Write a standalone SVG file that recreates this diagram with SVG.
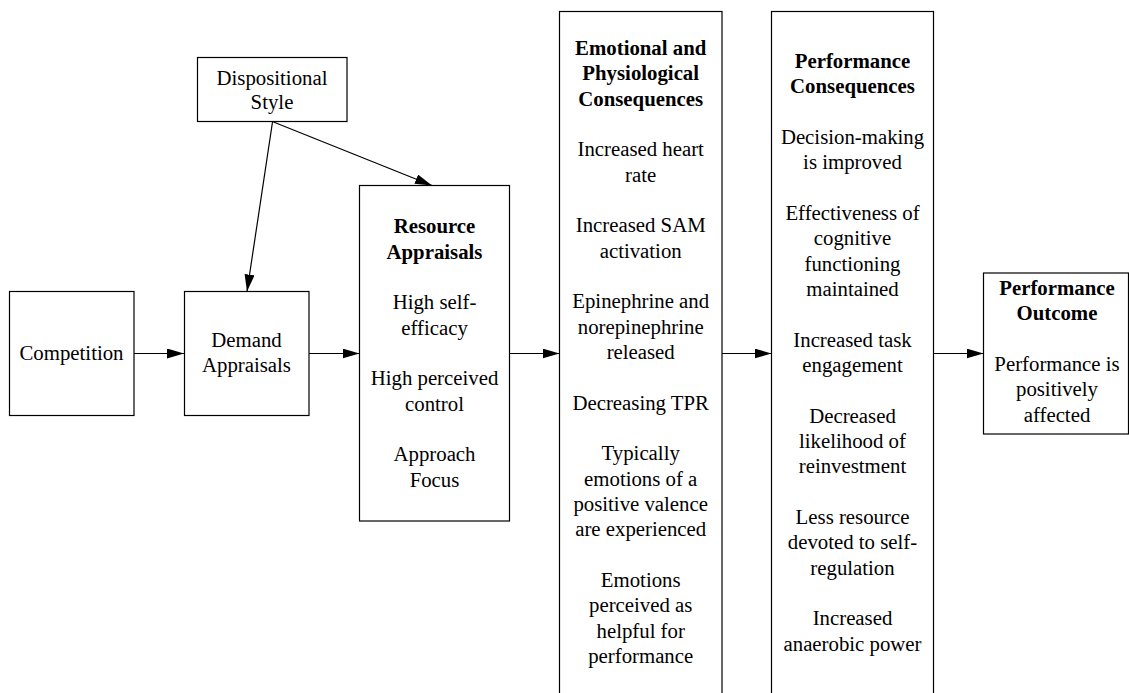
<svg xmlns="http://www.w3.org/2000/svg" width="1129" height="693" viewBox="0 0 1129 693" font-family="Liberation Serif, Times New Roman, serif" font-size="20.8">
<style>
.box{fill:#fff;stroke:#000;stroke-width:1.2}
text{fill:#000;text-anchor:middle}
.b{font-weight:bold}
.c{stroke:#000;stroke-width:1.2;fill:none}
</style>
<defs>
<marker id="ah" markerUnits="userSpaceOnUse" markerWidth="17" markerHeight="10" refX="17" refY="5" orient="auto">
<path d="M0,0 L17,5 L0,10 z" fill="#000"/>
</marker>
</defs>
<rect width="1129" height="693" fill="#fff"/>
<g id="connectors">
<line class="c" x1="134" y1="353.5" x2="184" y2="353.5" marker-end="url(#ah)"/>
<line class="c" x1="309" y1="353.5" x2="359.5" y2="353.5" marker-end="url(#ah)"/>
<line class="c" x1="509.5" y1="353.5" x2="559.5" y2="353.5" marker-end="url(#ah)"/>
<line class="c" x1="722" y1="353.5" x2="771.5" y2="353.5" marker-end="url(#ah)"/>
<line class="c" x1="933.5" y1="353.5" x2="983.5" y2="353.5" marker-end="url(#ah)"/>
<line class="c" x1="272.5" y1="122" x2="247" y2="291.5" marker-end="url(#ah)"/>
<line class="c" x1="273.5" y1="122" x2="432" y2="185.5" marker-end="url(#ah)"/>
</g>
<g id="dispositional">
<rect class="box" x="197.5" y="57.5" width="149.5" height="64"/>
<text x="272" y="84.5">Dispositional</text>
<text x="272" y="109">Style</text>
</g>
<g id="competition">
<rect class="box" x="9.5" y="291.5" width="124.5" height="124"/>
<text x="71.5" y="360">Competition</text>
</g>
<g id="demand">
<rect class="box" x="184.5" y="291.5" width="124.5" height="124"/>
<text x="246.5" y="346.7">Demand</text>
<text x="246.5" y="372">Appraisals</text>
</g>
<g id="resource">
<rect class="box" x="359.5" y="185.5" width="150" height="335.5"/>
<text class="b" x="434.5" y="233.3">Resource</text>
<text class="b" x="434.5" y="258.7">Appraisals</text>
<text x="434.5" y="309.3">High self-</text>
<text x="434.5" y="334.7">efficacy</text>
<text x="434.5" y="385.3">High perceived</text>
<text x="434.5" y="410.7">control</text>
<text x="434.5" y="461.3">Approach</text>
<text x="434.5" y="486.7">Focus</text>
</g>
<g id="emotional">
<rect class="box" x="559.5" y="11.5" width="162.5" height="700"/>
<text class="b" x="640.7" y="54.8">Emotional and</text>
<text class="b" x="640.7" y="80.1">Physiological</text>
<text class="b" x="640.7" y="105.5">Consequences</text>
<text x="640.7" y="156.1">Increased heart</text>
<text x="640.7" y="181.5">rate</text>
<text x="640.7" y="232.1">Increased SAM</text>
<text x="640.7" y="257.5">activation</text>
<text x="640.7" y="308.1">Epinephrine and</text>
<text x="640.7" y="333.5">norepinephrine</text>
<text x="640.7" y="358.8">released</text>
<text x="640.7" y="409.5">Decreasing TPR</text>
<text x="640.7" y="460.1">Typically</text>
<text x="640.7" y="485.5">emotions of a</text>
<text x="640.7" y="510.8">positive valence</text>
<text x="640.7" y="536.1">are experienced</text>
<text x="640.7" y="586.8">Emotions</text>
<text x="640.7" y="612.1">perceived as</text>
<text x="640.7" y="637.5">helpful for</text>
<text x="640.7" y="662.8">performance</text>
</g>
<g id="performance-consequences">
<rect class="box" x="771.5" y="11.5" width="162" height="700"/>
<text class="b" x="852.5" y="68">Performance</text>
<text class="b" x="852.5" y="93.3">Consequences</text>
<text x="852.5" y="144">Decision-making</text>
<text x="852.5" y="169.3">is improved</text>
<text x="852.5" y="220">Effectiveness of</text>
<text x="852.5" y="245.3">cognitive</text>
<text x="852.5" y="270.6">functioning</text>
<text x="852.5" y="296">maintained</text>
<text x="852.5" y="346.6">Increased task</text>
<text x="852.5" y="372">engagement</text>
<text x="852.5" y="422.6">Decreased</text>
<text x="852.5" y="448">likelihood of</text>
<text x="852.5" y="473.3">reinvestment</text>
<text x="852.5" y="524">Less resource</text>
<text x="852.5" y="549.3">devoted to self-</text>
<text x="852.5" y="574.6">regulation</text>
<text x="852.5" y="625.3">Increased</text>
<text x="852.5" y="650.6">anaerobic power</text>
</g>
<g id="performance-outcome">
<rect class="box" x="983.5" y="273" width="145" height="161"/>
<text class="b" x="1057" y="295">Performance</text>
<text class="b" x="1057" y="320.3">Outcome</text>
<text x="1057" y="371">Performance is</text>
<text x="1057" y="396.3">positively</text>
<text x="1057" y="421.7">affected</text>
</g>
</svg>
